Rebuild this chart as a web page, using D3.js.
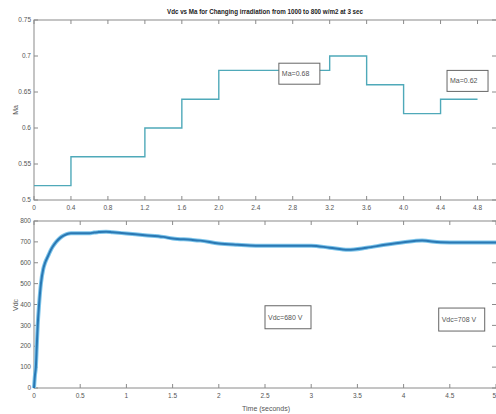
<!DOCTYPE html>
<html>
<head>
<meta charset="utf-8">
<script src="https://cdn.jsdelivr.net/npm/d3@7"></script>
<style>
  body { margin: 0; background: #fff; }
  svg text { font-family: "Liberation Sans Narrow", "Arial Narrow", "Liberation Sans", sans-serif; fill: #555; }
</style>
</head>
<body>
<svg width="496" height="414"></svg>
<script>
// modulation index steps (start time, value)
const maTimes = [0, 0.4, 1.2, 1.6, 2.0, 3.2, 3.6, 4.0, 4.4, 4.8];
const maValues = [0.52, 0.56, 0.60, 0.64, 0.68, 0.70, 0.66, 0.62, 0.64, 0.64];
const maTicks = [0, 0.4, 0.8, 1.2, 1.6, 2.0, 2.4, 2.8, 3.2, 3.6, 4.0, 4.4, 4.8];
const maTickLabels = ["0", "0.4", "0.8", "1.2", "1.6", "2.0", "2.4", "2.8", "3.2", "3.6", "4.0", "4.4", "4.8"];
const maYTicks = [0.5, 0.55, 0.6, 0.65, 0.7, 0.75];

// dc link voltage
const vdcTimes = [0, 0.01, 0.02, 0.03, 0.04, 0.055, 0.075, 0.1, 0.12, 0.15, 0.17, 0.2, 0.24, 0.28, 0.32, 0.36, 0.4, 0.5, 0.6, 0.65, 0.7, 0.78, 0.85, 1.0, 1.2, 1.4, 1.5, 1.7, 1.8, 2.0, 2.2, 2.4, 2.6, 2.8, 3.0, 3.2, 3.4, 3.6, 3.8, 4.0, 4.2, 4.4, 4.6, 4.8, 5.0];
const vdcValues = [0, 60, 100, 200, 300, 400, 500, 570, 600, 630, 650, 675, 700, 718, 730, 738, 741, 741, 741, 745, 747, 749, 746, 740, 732, 724, 716, 710, 706, 692, 686, 682, 682, 682, 682, 672, 662, 672, 686, 698, 706, 698, 697, 697, 697];
const vdcYTicks = [0, 100, 200, 300, 400, 500, 600, 700, 800];
const vdcXTicks = [0, 0.5, 1, 1.5, 2, 2.5, 3, 3.5, 4, 4.5, 5];

const titleText = "Vdc vs Ma for Changing irradiation from 1000 to 800 w/m2 at 3 sec";
const maNotes = [{ t: 2.65, v: 0.690, text: "Ma=0.68" }, { t: 4.47, v: 0.680, text: "Ma=0.62" }];
const vdcNotes = [{ t: 2.5, v: 394, text: "Vdc=680 V" }, { t: 4.38, v: 383, text: "Vdc=708 V" }];

const svg = d3.select("svg");
const left = 34, right = 496;

const x = d3.scaleLinear().domain([0, 5]).range([left, right]);
const yMa = d3.scaleLinear().domain([0.5, 0.75]).range([200, 20]);
const yVdc = d3.scaleLinear().domain([0, 800]).range([388, 221]);

function frame(y, top, bottom, xticks, xlabels, yticks, yfmt) {
  const g = svg.append("g");
  g.append("rect").attr("x", left).attr("y", top).attr("width", right - left + 4).attr("height", bottom - top)
    .attr("fill", "none").attr("stroke", "#8a8a8a").attr("stroke-width", 1);
  xticks.forEach((t, i) => {
    g.append("line").attr("x1", x(t)).attr("x2", x(t)).attr("y1", bottom).attr("y2", bottom - 4).attr("stroke", "#8a8a8a");
    g.append("line").attr("x1", x(t)).attr("x2", x(t)).attr("y1", top).attr("y2", top + 4).attr("stroke", "#8a8a8a");
    const atEdge = x(t) > right - 3;
    g.append("text").attr("x", atEdge ? right : x(t)).attr("y", bottom + 10)
      .attr("text-anchor", atEdge ? "end" : "middle")
      .attr("font-size", 6.5).text(xlabels[i]);
  });
  yticks.forEach(v => {
    g.append("line").attr("x1", left).attr("x2", left + 4).attr("y1", y(v)).attr("y2", y(v)).attr("stroke", "#8a8a8a");
    g.append("line").attr("x1", right - 4).attr("x2", right).attr("y1", y(v)).attr("y2", y(v)).attr("stroke", "#8a8a8a");
    g.append("text").attr("x", left - 3).attr("y", y(v) + 2.2).attr("text-anchor", "end")
      .attr("font-size", 6.5).text(yfmt(v));
  });
}

frame(yMa, 20, 200, maTicks, maTickLabels, maYTicks, v => String(+v.toFixed(2)));
frame(yVdc, 221, 388, vdcXTicks, vdcXTicks.map(String), vdcYTicks, v => String(v));

// Ma step line
const maPts = maTimes.map((t, i) => [t, maValues[i]]);
svg.append("path")
  .attr("d", d3.line().x(d => x(d[0])).y(d => yMa(d[1])).curve(d3.curveStepAfter)(maPts))
  .attr("fill", "none").attr("stroke", "#4fa9b9").attr("stroke-width", 1.4);

// Vdc line with light halo
const vdcPts = vdcTimes.map((t, i) => [t, vdcValues[i]]);
const vLine = d3.line().x(d => x(d[0])).y(d => yVdc(d[1])).curve(d3.curveMonotoneX);
svg.append("path").attr("d", vLine(vdcPts)).attr("fill", "none").attr("stroke", "#7cc4ea").attr("stroke-width", 4);
svg.append("path").attr("d", vLine(vdcPts)).attr("fill", "none").attr("stroke", "#2a78b4").attr("stroke-width", 2);

// annotation boxes
function note(y, n, w, h) {
  const bx = x(n.t), by = y(n.v);
  svg.append("rect").attr("x", bx).attr("y", by).attr("width", w).attr("height", h)
    .attr("fill", "#fff").attr("stroke", "#666").attr("stroke-width", 1);
  svg.append("text").attr("x", bx + 3).attr("y", by + h / 2 + 2.5).attr("font-size", 7).attr("fill", "#444").text(n.text);
}
maNotes.forEach(n => note(yMa, n, 41, 21));
vdcNotes.forEach(n => note(yVdc, n, 46, 23));

// titles and labels
svg.append("text").attr("x", 265).attr("y", 14).attr("text-anchor", "middle")
  .attr("font-size", 7.5).attr("font-weight", "bold").style("fill", "#222")
  .attr("textLength", 196).attr("lengthAdjust", "spacingAndGlyphs").text(titleText);
svg.append("text").attr("transform", "translate(18,110) rotate(-90)").attr("text-anchor", "middle")
  .attr("font-size", 7).text("Ma");
svg.append("text").attr("transform", "translate(18,305) rotate(-90)").attr("text-anchor", "middle")
  .attr("font-size", 7).text("Vdc");
svg.append("text").attr("x", 266).attr("y", 411).attr("text-anchor", "middle")
  .attr("font-size", 7).text("Time (seconds)");
</script>
</body>
</html>
